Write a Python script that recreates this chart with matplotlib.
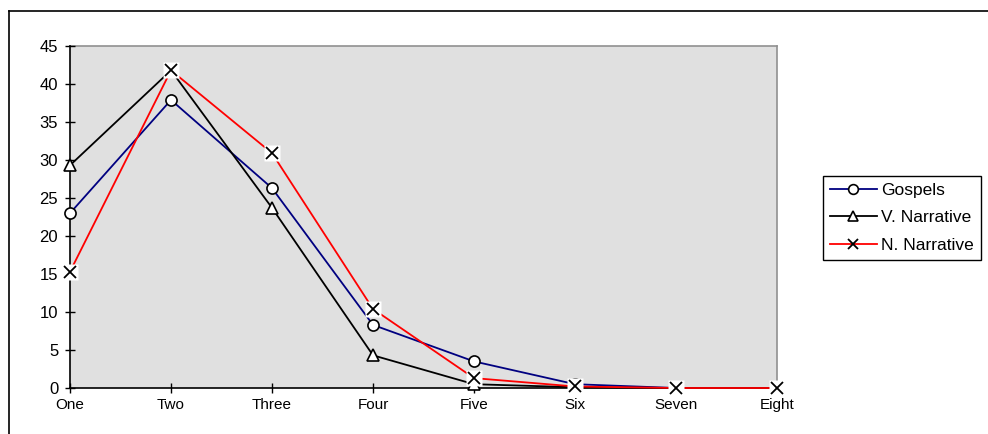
import matplotlib
matplotlib.use("Agg")
import matplotlib.pyplot as plt
from matplotlib.lines import Line2D
import numpy as np

categories = ["One", "Two", "Three", "Four", "Five", "Six", "Seven", "Eight"]
gospels = [23.0, 37.9, 26.3, 8.3, 3.5, 0.5, 0.0, 0.0]
v_narrative = [29.3, 41.8, 23.7, 4.3, 0.5, 0.1, 0.0, 0.0]
n_narrative = [15.3, 41.8, 30.9, 10.4, 1.3, 0.2, 0.0, 0.0]
yticks = [0, 5, 10, 15, 20, 25, 30, 35, 40, 45]

plt.rcParams["font.family"] = ["Liberation Sans", "DejaVu Sans"]

fig = plt.figure(figsize=(9.88, 4.34), dpi=100)
W, H = 988, 434
ax = fig.add_axes([70 / W, 1 - 388 / H, (777 - 70) / W, (388 - 46) / H])
ax.set_facecolor("#e0e0e0")

x = np.arange(len(categories))

ax.plot(x, gospels, color="#000080", lw=1.3, marker="o", ms=8,
        mfc="white", mec="black", mew=1.2, zorder=3, clip_on=False)
ax.plot(x, v_narrative, color="black", lw=1.3, marker="^", ms=8,
        mfc="white", mec="black", mew=1.2, zorder=3, clip_on=False)
ax.plot(x, n_narrative, color="red", lw=1.3, zorder=3, clip_on=False)
ax.plot(x, n_narrative, ls="none", marker="s", ms=11, mfc="white",
        mec="none", zorder=4, clip_on=False)
ax.plot(x, n_narrative, ls="none", marker="x", ms=8, mec="black",
        mew=1.3, zorder=5, clip_on=False)

ax.set_xlim(0, len(categories) - 1)
ax.set_ylim(0, 45)
ax.set_xticks(x)
ax.set_xticklabels(categories, fontsize=11)
ax.set_yticks(yticks)
ax.set_yticklabels([str(v) for v in yticks], fontsize=12)
ax.tick_params(axis="both", direction="inout", length=7, width=1, colors="black")
ax.tick_params(axis="x", pad=4)
ax.tick_params(axis="y", pad=5)

for side in ("left", "bottom"):
    ax.spines[side].set_color("black")
    ax.spines[side].set_linewidth(1.2)
for side in ("top", "right"):
    ax.spines[side].set_color("#909090")
    ax.spines[side].set_linewidth(1.2)
ax.spines["top"].set_zorder(1)

# legend
handles = [
    Line2D([], [], color="#000080", lw=1.3, marker="o", ms=7,
           mfc="white", mec="black", mew=1.2),
    Line2D([], [], color="black", lw=1.3, marker="^", ms=7,
           mfc="white", mec="black", mew=1.2),
    Line2D([], [], color="red", lw=1.3, marker="x", ms=7,
           mec="black", mew=1.3),
]
leg = fig.legend(handles, ["Gospels", "V. Narrative", "N. Narrative"],
                 loc="upper left", bbox_to_anchor=(823 / W, 1 - 176 / H),
                 fontsize=12.5, frameon=True, fancybox=False,
                 edgecolor="black", framealpha=1, handlelength=2.7,
                 borderpad=0.4, labelspacing=0.7, handletextpad=0.25,
                 borderaxespad=0)
leg.get_frame().set_linewidth(1.0)

# outer chart frame
fig.add_artist(Line2D([9 / W, 1.0], [1 - 11 / H, 1 - 11 / H],
                      transform=fig.transFigure, color="black", lw=1.2))
fig.add_artist(Line2D([9 / W, 9 / W], [1 - 11 / H, 0.0],
                      transform=fig.transFigure, color="black", lw=1.2))

fig.savefig("out.png", dpi=100)
